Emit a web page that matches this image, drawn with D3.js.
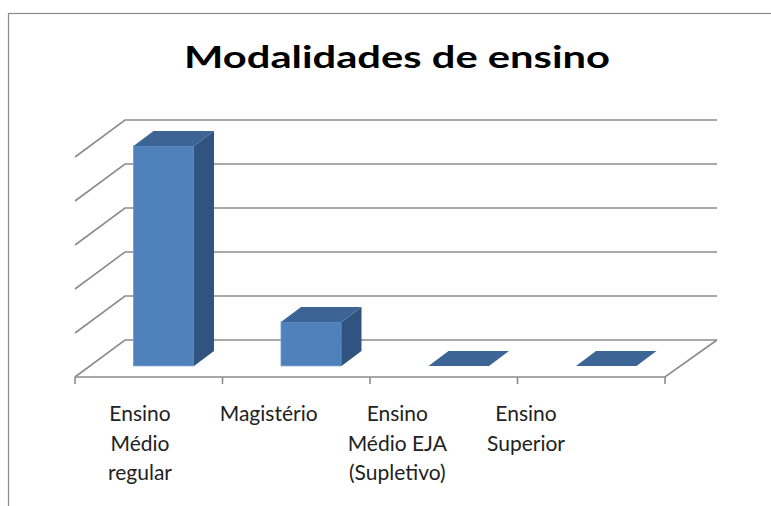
<!DOCTYPE html>
<html>
<head>
<meta charset="utf-8">
<script src="https://cdn.jsdelivr.net/npm/d3@7"></script>
<style>
  html, body { margin: 0; padding: 0; background: #ffffff; }
  svg { display: block; }
</style>
</head>
<body>
<svg id="chart" width="771" height="506"></svg>
<script>
// ---- data ----
const title = "Modalidades de ensino";
const categories = ["Ensino Médio regular", "Magistério", "Ensino Médio EJA (Supletivo)", "Ensino Superior"];
const categoryLines = [["Ensino", "Médio", "regular"], ["Magistério"], ["Ensino", "Médio EJA", "(Supletivo)"], ["Ensino", "Superior"]];
const values = [5, 1, 0, 0];
const valueTicks = [0, 1, 2, 3, 4, 5];

// ---- layout ----
const W = 771, H = 506;
const floorFrontY = 377;
const plotLeft = 75, plotRight = 665;
const depthDX = 50, depthDY = -37;     // full floor depth offset
const barDepth0 = 0.3, barDepth1 = 0.7;

const colors = { front: "#4F81BD", side: "#31537F", top: "#3C6595", grid: "#8C8C8C" };

const svg = d3.select("#chart");

// frame
svg.append("rect").attr("x", 8.5).attr("y", 13.5).attr("width", 800).attr("height", 600)
  .attr("fill", "none").attr("stroke", "#8a8a8a").attr("stroke-width", 1.2);

// title
svg.append("text").attr("x", 397).attr("y", 68).attr("text-anchor", "middle")
  .attr("font-family", "Lato, 'Noto Sans', sans-serif").attr("font-weight", "bold")
  .attr("font-size", 30).attr("fill", "#000")
  .attr("textLength", 426).attr("lengthAdjust", "spacingAndGlyphs").text(title);

// scales
const x = d3.scaleBand().domain(categories).range([plotLeft, plotRight])
  .paddingInner(0.59).paddingOuter(0.295);
const xStep = d3.scaleBand().domain(categories).range([plotLeft, plotRight]).padding(0);
const y = d3.scaleLinear().domain([0, d3.max(valueTicks)]).range([0, 220]);
const labelX = d3.scalePoint().domain(categories).range([140, 526]);

const off = d => [depthDX * d, depthDY * d];
const [bx, by] = off(1);

// back wall gridlines + left wall diagonals
const grid = svg.append("g").attr("stroke", colors.grid).attr("stroke-width", 1.6).attr("fill", "none");
valueTicks.forEach(v => {
  const yFront = floorFrontY - y(v);
  const yBack = yFront + by;
  grid.append("path").attr("d", `M${plotLeft},${yFront}L${plotLeft + bx},${yBack}L${plotRight + bx + 2},${yBack}`);
});
// floor front and right edges
grid.append("path").attr("d", `M${plotLeft},${floorFrontY}L${plotRight},${floorFrontY}L${plotRight + bx + 2},${floorFrontY + by}`);
// ticks
const tickXs = categories.map(c => xStep(c)).concat([plotRight]);
tickXs.forEach(tx => {
  grid.append("line").attr("x1", tx).attr("x2", tx).attr("y1", floorFrontY).attr("y2", floorFrontY + 7);
});

// bars
const [fx, fy] = off(barDepth0);
const [dx, dy] = [depthDX * (barDepth1 - barDepth0), depthDY * (barDepth1 - barDepth0)];
const bars = svg.append("g");
categories.forEach((c, i) => {
  const v = values[i];
  const x0 = x(c) + fx, w = x.bandwidth();
  const yb = floorFrontY + fy, yt = yb - y(v);
  const g = bars.append("g");
  if (v > 0) {
    g.append("rect").attr("x", x0).attr("y", yt).attr("width", w).attr("height", yb - yt)
      .attr("fill", colors.front).attr("stroke", "#6E97CA").attr("stroke-width", 0.8);
    g.append("path").attr("d", `M${x0 + w},${yb}L${x0 + w},${yt}L${x0 + w + dx},${yt + dy}L${x0 + w + dx},${yb + dy}Z`)
      .attr("fill", colors.side);
  }
  g.append("path").attr("d", `M${x0},${yt}L${x0 + w},${yt}L${x0 + w + dx},${yt + dy}L${x0 + dx},${yt + dy}Z`)
    .attr("fill", colors.top);
});

// category labels
const labels = svg.append("g").attr("font-family", "Lato, 'Noto Sans', sans-serif")
  .attr("font-size", 21).attr("fill", "#222").attr("text-anchor", "middle");
categories.forEach((c, i) => {
  const t = labels.append("text").attr("x", labelX(c)).attr("y", 421);
  categoryLines[i].forEach((ln, j) => {
    t.append("tspan").attr("x", labelX(c)).attr("dy", j === 0 ? 0 : 29.5).text(ln);
  });
});
</script>
</body>
</html>
